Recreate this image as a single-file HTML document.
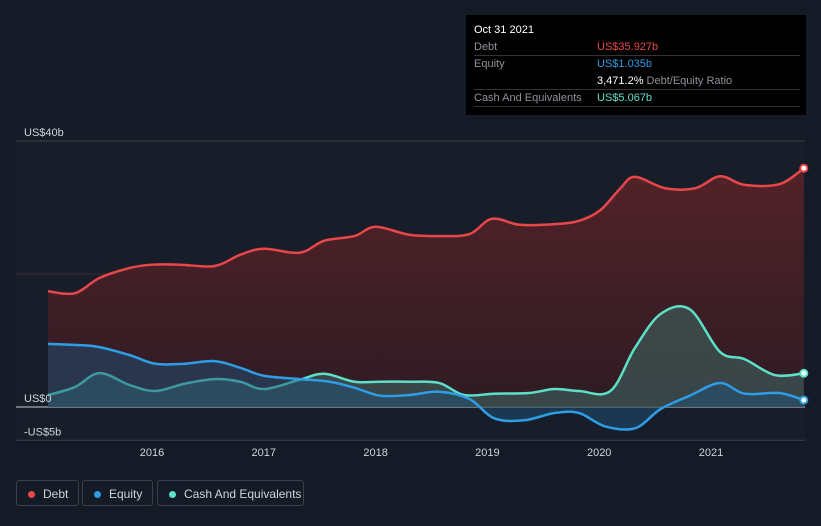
<!DOCTYPE html>
<html><head><meta charset="utf-8">
<style>
body{margin:0;width:821px;height:526px;background:#151b26;font-family:"Liberation Sans",sans-serif;overflow:hidden;position:relative}
#tip{position:absolute;left:466px;top:15px;width:340px;height:100px;background:#000;font-size:11px;color:#8d929a}
.row{position:absolute;left:8px;right:6px;height:16px;border-bottom:1px solid #333;line-height:16px}
.lg{position:absolute;top:480px;height:26px;border:1px solid #3a404b;border-radius:3px;color:#d0d3d8;font-size:12px;line-height:26px;padding:0 10px 0 26px;white-space:nowrap;box-sizing:border-box}
.lg i{position:absolute;left:11px;top:10px;width:7px;height:7px;border-radius:50%}
</style></head><body>
<svg id="chart" width="821" height="526" style="position:absolute;left:0;top:0">
<defs>
<linearGradient id="gd" x1="0" y1="0" x2="0" y2="1"><stop offset="0" stop-color="#5a2328" stop-opacity=".9"/><stop offset="1" stop-color="#3a1a22" stop-opacity=".7"/></linearGradient>
</defs>
<rect x="16" y="141" width="789" height="299" fill="#181e29"/>
<g id="grid"></g>
<g id="marks"></g>
<g id="labels" font-size="11" fill="#d0d3d8"></g>
</svg>
<div id="tip">
<div style="position:absolute;left:8px;top:9px;color:#fff;font-size:11px">Oct 31 2021</div>
<div class="row" style="top:24px">Debt<span style="position:absolute;left:123px;color:#e8474a">US$35.927b</span></div>
<div class="row" style="top:41px;border:none">Equity<span style="position:absolute;left:123px;color:#2f9ce6">US$1.035b</span></div>
<div class="row" style="top:58px"><span style="position:absolute;left:123px;color:#fff">3,471.2% <span style="color:#8d929a">Debt/Equity Ratio</span></span></div>
<div class="row" style="top:75px">Cash And Equivalents<span style="position:absolute;left:123px;color:#5de0c8">US$5.067b</span></div>
</div>
<div class="lg" style="left:16px;width:63px"><i style="background:#e8474a"></i>Debt</div>
<div class="lg" style="left:82px;width:71px"><i style="background:#2f9ce6"></i>Equity</div>
<div class="lg" style="left:157px;width:147px"><i style="background:#5de0c8"></i>Cash And Equivalents</div>
<script>
const debtT=[2015.07,2015.31,2015.53,2015.80,2016.00,2016.25,2016.56,2016.79,2017.00,2017.32,2017.54,2017.81,2018.00,2018.30,2018.57,2018.84,2019.04,2019.29,2019.60,2019.82,2020.01,2020.19,2020.32,2020.59,2020.86,2021.08,2021.30,2021.61,2021.83];
const debtV=[17.4,17.1,19.4,20.9,21.4,21.4,21.2,22.9,23.8,23.2,25.0,25.7,27.1,25.9,25.7,26.0,28.3,27.4,27.5,28.0,29.6,32.9,34.6,32.9,32.9,34.7,33.4,33.5,35.9];
const eqT=[2015.07,2015.36,2015.53,2015.80,2016.03,2016.29,2016.56,2016.79,2017.00,2017.32,2017.59,2017.81,2018.04,2018.30,2018.57,2018.84,2019.06,2019.33,2019.60,2019.82,2020.05,2020.32,2020.55,2020.81,2021.08,2021.30,2021.61,2021.83];
const eqV=[9.5,9.3,9.0,7.8,6.5,6.5,6.9,5.9,4.7,4.2,3.8,2.9,1.7,1.8,2.3,1.2,-1.7,-2.0,-0.9,-0.9,-2.9,-3.2,-0.3,1.7,3.6,2.0,2.1,1.04];
const cashT=[2015.07,2015.31,2015.53,2015.80,2016.03,2016.29,2016.56,2016.79,2017.00,2017.32,2017.54,2017.81,2018.04,2018.30,2018.57,2018.79,2019.06,2019.37,2019.60,2019.82,2020.10,2020.32,2020.55,2020.81,2021.08,2021.30,2021.57,2021.83];
const cashV=[1.8,3.0,5.1,3.3,2.4,3.5,4.2,3.8,2.7,4.1,5.0,3.8,3.8,3.8,3.6,1.8,2.0,2.1,2.7,2.4,2.4,8.9,14.0,14.7,8.3,7.2,4.8,5.07];
const yTicks=[40,0,-5];const yLabels=["US$40b","US$0","-US$5b"];
const xTicks=[2016,2017,2018,2019,2020,2021];
const X=t=>152+(t-2016)*111.8, Y=v=>407-v*6.65;
const NS="http://www.w3.org/2000/svg";
function mk(tag,a,p){const e=document.createElementNS(NS,tag);for(const k in a)e.setAttribute(k,a[k]);p.appendChild(e);return e;}
function path(T,V){const P=T.map((t,i)=>[X(t),Y(V[i])]);let d="M"+P[0];for(let i=0;i<P.length-1;i++){const p0=P[i-1]||P[i],p1=P[i],p2=P[i+1],p3=P[i+2]||p2;const c1=[p1[0]+(p2[0]-p0[0])/6,p1[1]+(p2[1]-p0[1])/6],c2=[p2[0]-(p3[0]-p1[0])/6,p2[1]-(p3[1]-p1[1])/6];d+="C"+c1+" "+c2+" "+p2;}return {d,P};}
const grid=document.getElementById('grid'),marks=document.getElementById('marks'),lab=document.getElementById('labels');
yTicks.forEach((v,i)=>{const l=mk('line',{x1:16,x2:805,y1:Y(v),y2:Y(v),stroke:v===0?'#c9ccd1':'#3a404b','stroke-width':1},grid);

const t=mk('text',{x:24,y:Y(v)-5},lab);t.textContent=yLabels[i];});
mk('line',{x1:16,x2:805,y1:Y(20),y2:Y(20),stroke:'#3a2a33','stroke-width':1},grid);
xTicks.forEach(v=>{const t=mk('text',{x:X(v),y:456,'text-anchor':'middle'},lab);t.textContent=v;});
const series=[[debtT,debtV,'#e8474a','url(#gd)',1,'debt'],[cashT,cashV,'#5de0c8','#3f6a64',.55,'cash'],[eqT,eqV,'#2f9ce6','#1f4f78',.5,'equity']];
series.forEach(([T,V,c,f,o,n])=>{const {d,P}=path(T,V);
const a=mk('path',{d:d+"L"+P[P.length-1][0]+","+Y(0)+"L"+P[0][0]+","+Y(0)+"Z",fill:f,'fill-opacity':o},marks);

const l=mk('path',{d,fill:'none',stroke:c,'stroke-width':2.5},marks);

const e=P[P.length-1];const dt=mk('circle',{cx:e[0],cy:e[1],r:3.5,fill:'#fff',stroke:c,'stroke-width':2},marks);
});
</script>
</body></html>
